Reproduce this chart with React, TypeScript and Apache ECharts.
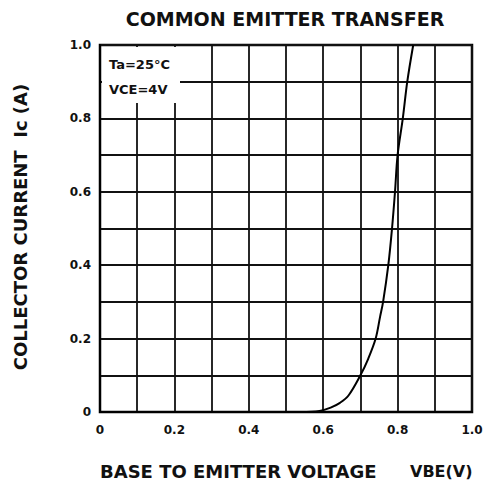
import React, { useEffect, useRef } from "react";
import * as echarts from "echarts";

const vbe = [0.54, 0.59, 0.62, 0.645, 0.668, 0.7, 0.721, 0.741, 0.753, 0.761, 0.775, 0.785, 0.793, 0.8, 0.814, 0.826, 0.842];
const ic = [0, 0.003, 0.012, 0.025, 0.045, 0.1, 0.145, 0.2, 0.26, 0.3, 0.4, 0.5, 0.6, 0.7, 0.8, 0.9, 1.0];
const tickLabels: Record<string, string> = { "0": "0", "0.2": "0.2", "0.4": "0.4", "0.6": "0.6", "0.8": "0.8", "1": "1.0" };

const FONT = "'DejaVu Sans', 'Liberation Sans', Arial, sans-serif";

function fmt(v: number) {
  const k = String(Math.round(v * 10) / 10);
  return tickLabels[k] ?? "";
}

export default function App() {
  const ref = useRef<HTMLDivElement>(null);
  useEffect(() => {
    const chart = echarts.init(ref.current!, null, { renderer: "svg" });
    const axisCommon = {
      min: 0,
      max: 1,
      interval: 0.1,
      axisLine: { show: true, lineStyle: { color: "#000", width: 2 } },
      axisTick: { show: false },
      splitLine: { show: true, lineStyle: { color: "#111", width: 1.8 } },
      axisLabel: { formatter: fmt, color: "#111", fontFamily: FONT, fontWeight: "bold", fontSize: 12 },
    };
    chart.setOption({
      animation: false,
      backgroundColor: "#fff",
      grid: { left: 100, right: 18, top: 45, bottom: 77, show: true, borderColor: "#000", borderWidth: 2.5 },
      xAxis: { type: "value", ...axisCommon, axisLabel: { ...axisCommon.axisLabel, margin: 12 } },
      yAxis: { type: "value", ...axisCommon, axisLabel: { ...axisCommon.axisLabel, margin: 9 } },
      series: [
        {
          type: "line",
          data: vbe.map((v, i) => [v, ic[i]]),
          smooth: 0.35,
          showSymbol: false,
          lineStyle: { color: "#000", width: 2 },
          z: 5,
        },
      ],
      graphic: [
        { type: "rect", shape: { x: 102, y: 47, width: 78, height: 56 }, style: { fill: "#fff" }, z: 10 },
        { type: "text", x: 109, y: 64, z: 11, style: { text: "Ta=25°C", font: `bold 13px ${FONT}`, fill: "#111", textVerticalAlign: "middle" } },
        { type: "text", x: 109, y: 89, z: 11, style: { text: "VCE=4V", font: `bold 13px ${FONT}`, fill: "#111", textVerticalAlign: "middle" } },
        { type: "text", x: 285, y: 19, style: { text: "COMMON EMITTER TRANSFER", font: `bold 19px ${FONT}`, fill: "#111", textAlign: "center", textVerticalAlign: "middle" } },
        { type: "text", x: 100, y: 471, style: { text: "BASE TO EMITTER VOLTAGE", font: `bold 18px ${FONT}`, fill: "#111", textVerticalAlign: "middle" } },
        { type: "text", x: 410, y: 471, style: { text: "VBE(V)", font: `bold 16px ${FONT}`, fill: "#111", textVerticalAlign: "middle" } },
        { type: "text", x: 20, y: 227, rotation: Math.PI / 2, style: { text: "COLLECTOR CURRENT  Ic (A)", font: `bold 18px ${FONT}`, fill: "#111", textAlign: "center", textVerticalAlign: "middle" } },
      ],
    });
    return () => chart.dispose();
  }, []);
  return <div ref={ref} style={{ width: 490, height: 489, position: "absolute", left: 0, top: 0 }} />;
}
